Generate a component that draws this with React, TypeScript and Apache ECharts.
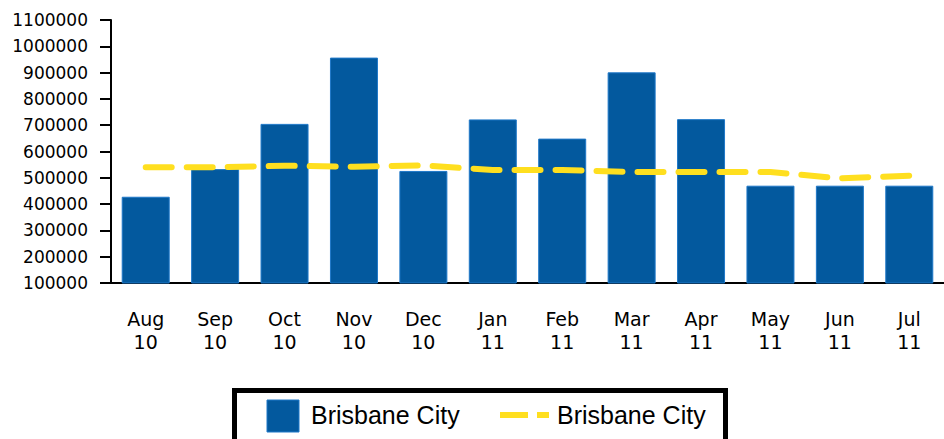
import React, { useEffect, useRef } from "react";
import * as echarts from "echarts";

const months = ["Aug", "Sep", "Oct", "Nov", "Dec", "Jan", "Feb", "Mar", "Apr", "May", "Jun", "Jul"];
const years = ["10", "10", "10", "10", "10", "11", "11", "11", "11", "11", "11", "11"];
const barValues = [428000, 533000, 705000, 957000, 526000, 722000, 649000, 901000, 723000, 470000, 470000, 470000];
const lineValues = [540000, 540000, 546000, 542000, 547000, 530000, 530000, 522000, 522000, 522000, 498000, 508000];
const seriesName = "Brisbane City";
const yMin = 100000;
const yMax = 1100000;
const yStep = 100000;

const BLUE = "#03599e";
const YELLOW = "#ffdf1f";

export default function App() {
  const ref = useRef<HTMLDivElement>(null);
  useEffect(() => {
    if (!ref.current) return;
    const chart = echarts.init(ref.current, undefined, { renderer: "svg" });
    const categories = months.map((m, i) => m + "\n" + years[i]);
    chart.setOption({
      animation: false,
      grid: { left: 111, right: -5, top: 20, bottom: 156, containLabel: false },
      xAxis: {
        type: "category",
        data: categories,
        boundaryGap: true,
        axisLine: { lineStyle: { color: "#000", width: 2 } },
        axisTick: { alignWithLabel: true, length: 12, lineStyle: { color: "#000", width: 2 } },
        axisLabel: {
          color: "#000",
          fontFamily: "DejaVu Sans",
          fontSize: 19,
          lineHeight: 23,
          margin: 24,
          interval: 0,
        },
        splitLine: { show: false },
      },
      yAxis: {
        type: "value",
        min: yMin,
        max: yMax,
        interval: yStep,
        axisLine: { show: true, lineStyle: { color: "#000", width: 2 } },
        axisTick: { show: true, length: 11, lineStyle: { color: "#000", width: 2 } },
        axisLabel: {
          color: "#000",
          fontFamily: "DejaVu Sans",
          fontSize: 17,
          margin: 23,
          formatter: (v: number) => String(v),
        },
        splitLine: { show: false },
      },
      series: [
        {
          name: seriesName,
          type: "bar",
          data: barValues,
          barWidth: 48,
          itemStyle: { color: BLUE, borderColor: "#1f78c8", borderWidth: 1 },
          z: 2,
        },
        {
          name: seriesName,
          type: "line",
          data: lineValues,
          symbol: "none",
          lineStyle: { color: YELLOW, width: 6, type: [26, 15], cap: "round" },
          z: 3,
        },
      ],
      graphic: [
        {
          type: "rect",
          shape: { x: 234.5, y: 390.5, width: 491, height: 70 },
          style: { fill: "#fff", stroke: "#000", lineWidth: 5 },
        },
        {
          type: "rect",
          shape: { x: 267, y: 400, width: 32, height: 32 },
          style: { fill: BLUE, stroke: "#1f78c8", lineWidth: 1 },
        },
        {
          type: "text",
          x: 311,
          y: 415,
          style: {
            text: seriesName,
            fill: "#000",
            font: "25px 'Liberation Sans'",
            verticalAlign: "middle",
            align: "left",
          },
        },
        {
          type: "line",
          shape: { x1: 500, y1: 415, x2: 549, y2: 415 },
          style: { stroke: YELLOW, lineWidth: 6, lineDash: [28, 9] },
        },
        {
          type: "text",
          x: 557,
          y: 415,
          style: {
            text: seriesName,
            fill: "#000",
            font: "25px 'Liberation Sans'",
            verticalAlign: "middle",
            align: "left",
          },
        },
      ],
    });
    return () => chart.dispose();
  }, []);
  return (
    <div
      ref={ref}
      style={{ position: "absolute", left: 0, top: 0, width: 944, height: 439, background: "#fff" }}
    />
  );
}
